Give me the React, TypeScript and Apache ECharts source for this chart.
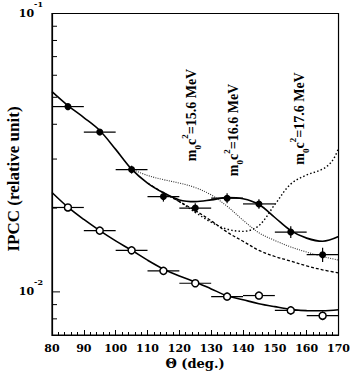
import React, { useEffect, useRef } from "react";
import * as echarts from "echarts";

// Measured data points (theta in degrees, IPCC in relative units)
const angles = [85, 95, 105, 115, 125, 135, 145, 155, 165];
const angleErr = [5, 5, 5, 5, 5, 5, 5, 5, 5];
const highE = [0.0463, 0.0375, 0.0275, 0.022, 0.02, 0.0217, 0.0207, 0.0164, 0.0136];
const highErr = [0.0012, 0.001, 0.0009, 0.0009, 0.0008, 0.0009, 0.0008, 0.0008, 0.0008];
const lowE = [0.0201, 0.0166, 0.0141, 0.0119, 0.01074, 0.00962, 0.0097, 0.00858, 0.00821];
const lowErr = [0.0003, 0.0003, 0.0003, 0.0003, 0.0003, 0.0003, 0.0003, 0.0003, 0.0003];

// Fitted / simulated curves
const fitAngles = [80, 85, 90, 95, 100, 105, 110, 115, 120, 125, 130, 135, 140, 145, 150, 155, 160, 165, 170];
const highFit = [0.0524, 0.0467, 0.0423, 0.038, 0.0325, 0.0276, 0.0246, 0.0227, 0.0214, 0.0211, 0.0214, 0.0218, 0.0216, 0.0206, 0.0185, 0.0166, 0.0156, 0.0152, 0.0158];
const lowFit = [0.02275, 0.02015, 0.0182, 0.0166, 0.01525, 0.01411, 0.013, 0.01208, 0.0114, 0.01085, 0.01025, 0.00968, 0.00937, 0.00907, 0.00885, 0.00866, 0.00856, 0.00856, 0.00863];

const m156Angles = [105, 110, 115, 120, 125, 130, 135, 140, 145, 150, 155, 160, 165, 170];
const m156 = [0.0276, 0.0262, 0.0253, 0.0246, 0.0237, 0.0223, 0.0203, 0.0181, 0.0163, 0.0153, 0.0145, 0.0139, 0.0134, 0.013];

const m166Angles = [110, 115, 120, 125, 130, 135, 140, 145, 150, 155, 160, 165, 170];
const m166 = [0.0246, 0.0227, 0.0211, 0.0196, 0.018, 0.0164, 0.0152, 0.0141, 0.0134, 0.0129, 0.0124, 0.012, 0.0117];

const m176Angles = [115, 120, 125, 130, 135, 140, 145, 150, 155, 160, 165, 168, 170];
const m176 = [0.0227, 0.0211, 0.0193, 0.0178, 0.0168, 0.0165, 0.0173, 0.0206, 0.0244, 0.0263, 0.0276, 0.0295, 0.0328];

const yMajorTicks = [0.01, 0.1];
const yMinorTicks = [0.008, 0.009, 0.02, 0.03, 0.04, 0.05, 0.06, 0.07, 0.08, 0.09];

const massLabels = ["15.6", "16.6", "17.6"];

const SERIF = '"Liberation Serif", "Times New Roman", serif';
const WIDE_SERIF = '"DejaVu Serif", serif';

function pairs(xs: number[], ys: number[]) {
  return xs.map((x, i) => [x, ys[i]]);
}

export default function App() {
  const ref = useRef<HTMLDivElement>(null);

  useEffect(() => {
    if (!ref.current) return;
    const chart = echarts.init(ref.current, null, { renderer: "svg" });

    const errRender = (params: any, api: any) => {
      const x = api.value(0);
      const y = api.value(1);
      const ex = api.value(2);
      const ey = api.value(3);
      const l = api.coord([x - ex, y]);
      const r = api.coord([x + ex, y]);
      const t = api.coord([x, y + ey]);
      const b = api.coord([x, y - ey]);
      const st = { stroke: "#000", lineWidth: 1.2 };
      return {
        type: "group",
        children: [
          { type: "line", shape: { x1: l[0], y1: l[1], x2: r[0], y2: r[1] }, style: st },
          { type: "line", shape: { x1: t[0], y1: t[1], x2: b[0], y2: b[1] }, style: st },
        ],
      };
    };

    const tickRender = (len: number) => (params: any, api: any) => {
      const p = api.coord([api.value(0), api.value(1)]);
      return {
        type: "line",
        shape: { x1: p[0], y1: p[1], x2: p[0] + len, y2: p[1] },
        style: { stroke: "#000", lineWidth: 1 },
      };
    };

    const curve = (name: string, xs: number[], ys: number[], lineStyle: any) => ({
      type: "line",
      name,
      data: pairs(xs, ys),
      symbol: "none",
      smooth: 0.35,
      lineStyle,
      z: 3,
      silent: true,
    });

    const richMass = {
      m: { font: `bold 14px ${SERIF}`, fill: "#000", lineHeight: 22, verticalAlign: "middle" },
      sub: { font: `bold 9px ${SERIF}`, fill: "#000", lineHeight: 9, verticalAlign: "bottom" },
      sup: { font: `bold 9px ${SERIF}`, fill: "#000", lineHeight: 9, verticalAlign: "top" },
    };
    const massPos = [
      [191.5, 115],
      [233.5, 130],
      [299, 118.5],
    ];

    chart.setOption({
      animation: false,
      backgroundColor: "#fff",
      grid: {
        left: 52,
        right: 11,
        top: 11,
        bottom: 39,
        show: true,
        borderColor: "#000",
        borderWidth: 1.2,
        backgroundColor: "transparent",
      },
      xAxis: {
        type: "value",
        min: 80,
        max: 170,
        interval: 10,
        axisLine: { lineStyle: { color: "#000", width: 1.2 } },
        axisTick: { inside: true, length: 5, lineStyle: { color: "#000", width: 1 } },
        minorTick: { show: true, splitNumber: 5, length: 3, lineStyle: { color: "#000", width: 1 } },
        splitLine: { show: false },
        axisLabel: {
          color: "#000",
          fontFamily: WIDE_SERIF,
          fontWeight: "bold",
          fontSize: 11,
          margin: 8,
        },
      },
      yAxis: {
        type: "log",
        logBase: 10,
        min: 0.007,
        max: 0.1,
        axisLine: { lineStyle: { color: "#000", width: 1.2 } },
        axisTick: { show: false },
        minorTick: { show: false },
        splitLine: { show: false },
        axisLabel: {
          margin: 9,
          formatter: (v: number) => {
            const l = Math.log10(v);
            const r = Math.round(l);
            if (Math.abs(l - r) < 1e-6) return `{b|10}{s|${r}}`;
            return "";
          },
          rich: {
            b: { fontFamily: WIDE_SERIF, fontWeight: "bold", fontSize: 11, color: "#000", lineHeight: 27, verticalAlign: "middle" },
            s: { fontFamily: WIDE_SERIF, fontWeight: "bold", fontSize: 8, color: "#000", lineHeight: 8, verticalAlign: "top" },
          },
        },
      },
      series: [
        curve("fit high", fitAngles, highFit, { color: "#000", width: 1.6, type: "solid" }),
        curve("fit low", fitAngles, lowFit, { color: "#000", width: 1.6, type: "solid" }),
        curve("15.6 MeV", m156Angles, m156, { color: "#333", width: 1.1, type: [1, 1.3] }),
        curve("16.6 MeV", m166Angles, m166, { color: "#000", width: 1.3, type: [3, 2] }),
        curve("17.6 MeV", m176Angles, m176, { color: "#000", width: 1.4, type: [1.5, 2.2] }),
        {
          type: "custom",
          name: "err high",
          renderItem: errRender,
          data: angles.map((a, i) => [a, highE[i], angleErr[i], highErr[i]]),
          encode: { x: 0, y: 1 },
          z: 4,
          silent: true,
        },
        {
          type: "custom",
          name: "err low",
          renderItem: errRender,
          data: angles.map((a, i) => [a, lowE[i], angleErr[i], lowErr[i]]),
          encode: { x: 0, y: 1 },
          z: 4,
          silent: true,
        },
        {
          type: "scatter",
          name: "Ep high",
          data: pairs(angles, highE),
          symbol: "circle",
          symbolSize: 7,
          itemStyle: { color: "#000", opacity: 1 },
          z: 5,
          silent: true,
        },
        {
          type: "scatter",
          name: "Ep low",
          data: pairs(angles, lowE),
          symbol: "circle",
          symbolSize: 7,
          itemStyle: { color: "#fff", borderColor: "#000", borderWidth: 1.5, opacity: 1 },
          z: 5,
          silent: true,
        },
        {
          type: "custom",
          name: "major ticks",
          renderItem: tickRender(8),
          data: yMajorTicks.map((v) => [80, v]),
          encode: { x: 0, y: 1 },
          z: 6,
          silent: true,
        },
        {
          type: "custom",
          name: "minor ticks",
          renderItem: tickRender(5),
          data: yMinorTicks.map((v) => [80, v]),
          encode: { x: 0, y: 1 },
          z: 6,
          silent: true,
        },
      ],
      graphic: [
        ...massLabels.map((m, i) => ({
          type: "text",
          x: massPos[i][0],
          y: massPos[i][1],
          rotation: Math.PI / 2,
          z: 10,
          style: {
            text: `{m|m}{sub|0}{m|c}{sup|2}{m|=${m} MeV}`,
            rich: richMass,
            align: "center",
            verticalAlign: "middle",
            fill: "#000",
          },
        })),
        {
          type: "text",
          x: 13,
          y: 179,
          rotation: Math.PI / 2,
          z: 10,
          style: {
            text: "IPCC (relative unit)",
            font: `bold 17px ${SERIF}`,
            fill: "#000",
            align: "center",
            verticalAlign: "middle",
          },
        },
        {
          type: "text",
          x: 195,
          y: 363,
          z: 10,
          style: {
            text: "\u0398 (deg.)",
            font: `bold 13px ${WIDE_SERIF}`,
            fill: "#000",
            align: "center",
            verticalAlign: "middle",
          },
        },
      ],
    });

    return () => chart.dispose();
  }, []);

  return (
    <div
      ref={ref}
      style={{ position: "fixed", left: 0, top: 0, width: 353, height: 374, background: "#fff" }}
    />
  );
}
